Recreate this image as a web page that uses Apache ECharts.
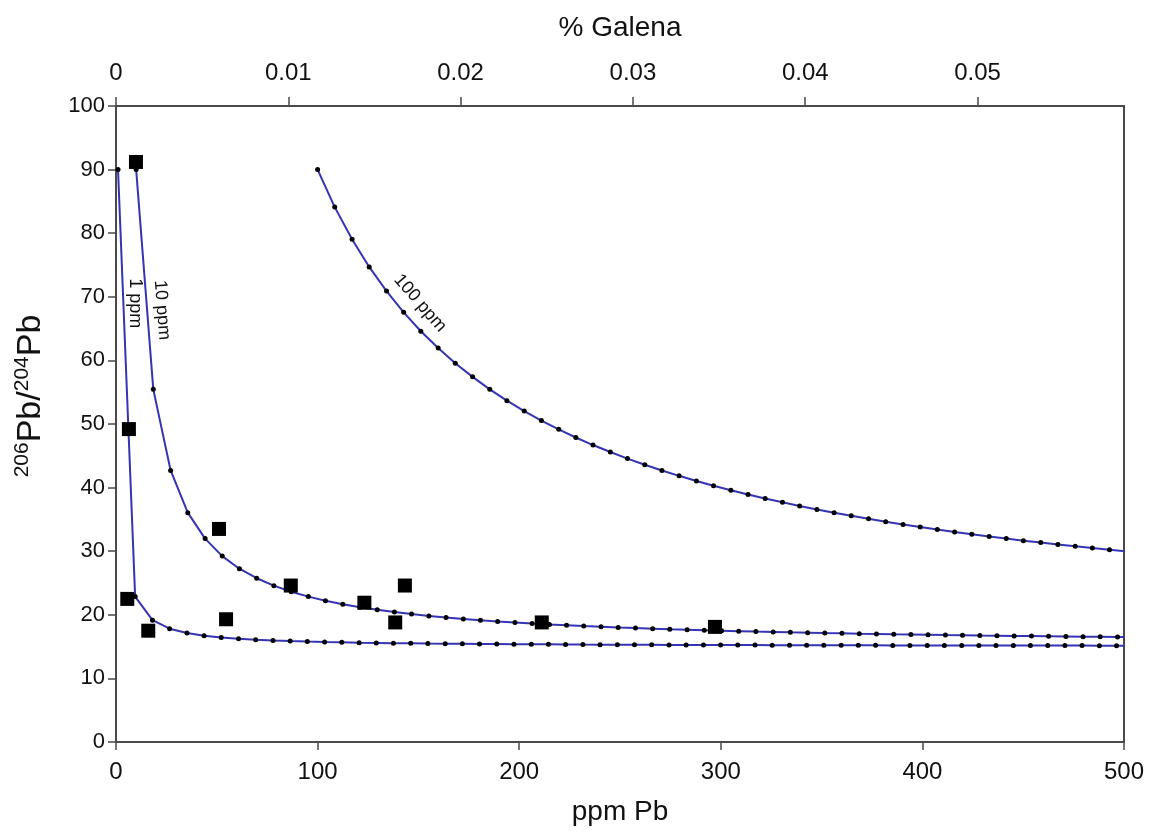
<!DOCTYPE html>
<html>
<head>
<meta charset="utf-8">
<script src="https://cdn.jsdelivr.net/npm/echarts@6/dist/echarts.min.js"></script>
<style>
html,body{margin:0;padding:0;background:#fff;}
#chart{width:1157px;height:831px;}
</style>
</head>
<body>
<div id="chart"></div>
<script>
// ---- data ----
const curve1X = [1, 9.5, 18.1, 26.6, 35.2, 43.7, 52.2, 60.8, 69.3, 77.9, 86.4, 94.9, 103.5, 112.0, 120.6, 129.1, 137.6, 146.2, 154.7, 163.3, 171.8, 180.3, 188.9, 197.4, 206.0, 214.5, 223.0, 231.6, 240.1, 248.7, 257.2, 265.7, 274.3, 282.8, 291.4, 299.9, 308.4, 317.0, 325.5, 334.1, 342.6, 351.1, 359.7, 368.2, 376.8, 385.3, 393.8, 402.4, 410.9, 419.5, 428.0, 436.5, 445.1, 453.6, 462.2, 470.7, 479.2, 487.8, 496.3, 504.9];
const curve1Y = [90, 22.86, 19.15, 17.82, 17.13, 16.72, 16.44, 16.23, 16.08, 15.96, 15.87, 15.79, 15.72, 15.67, 15.62, 15.58, 15.54, 15.51, 15.48, 15.46, 15.44, 15.42, 15.40, 15.38, 15.36, 15.35, 15.34, 15.32, 15.31, 15.30, 15.29, 15.28, 15.27, 15.27, 15.26, 15.25, 15.24, 15.24, 15.23, 15.22, 15.22, 15.21, 15.21, 15.20, 15.20, 15.19, 15.19, 15.19, 15.18, 15.18, 15.18, 15.17, 15.17, 15.17, 15.16, 15.16, 15.16, 15.15, 15.15, 15.15];

const curve10X = [10, 18.5, 27.1, 35.6, 44.2, 52.7, 61.2, 69.8, 78.3, 86.9, 95.4, 103.9, 112.5, 121.0, 129.6, 138.1, 146.6, 155.2, 163.7, 172.3, 180.8, 189.3, 197.9, 206.4, 215.0, 223.5, 232.0, 240.6, 249.1, 257.7, 266.2, 274.7, 283.3, 291.8, 300.4, 308.9, 317.4, 326.0, 334.5, 343.1, 351.6, 360.1, 368.7, 377.2, 385.8, 394.3, 402.8, 411.4, 419.9, 428.5, 437.0, 445.5, 454.1, 462.6, 471.2, 479.7, 488.2, 496.8, 505.3];
const curve10Y = [90, 55.45, 42.70, 36.06, 31.98, 29.23, 27.25, 25.75, 24.58, 23.63, 22.86, 22.22, 21.67, 21.20, 20.79, 20.43, 20.11, 19.83, 19.58, 19.35, 19.15, 18.96, 18.79, 18.63, 18.49, 18.36, 18.23, 18.12, 18.01, 17.91, 17.82, 17.73, 17.65, 17.57, 17.50, 17.43, 17.36, 17.30, 17.24, 17.19, 17.13, 17.08, 17.03, 16.99, 16.94, 16.90, 16.86, 16.82, 16.79, 16.75, 16.72, 16.68, 16.65, 16.62, 16.59, 16.56, 16.54, 16.51, 16.48];

const curve100X = [100, 108.5, 117.1, 125.6, 134.2, 142.7, 151.2, 159.8, 168.3, 176.9, 185.4, 193.9, 202.5, 211.0, 219.6, 228.1, 236.6, 245.2, 253.7, 262.3, 270.8, 279.3, 287.9, 296.4, 305.0, 313.5, 322.0, 330.6, 339.1, 347.7, 356.2, 364.7, 373.3, 381.8, 390.4, 398.9, 407.4, 416.0, 424.5, 433.1, 441.6, 450.1, 458.7, 467.2, 475.8, 484.3, 492.8, 501.4];
const curve100Y = [90, 84.10, 79.06, 74.70, 70.90, 67.56, 64.59, 61.94, 59.56, 57.41, 55.45, 53.67, 52.04, 50.54, 49.16, 47.88, 46.69, 45.59, 44.56, 43.60, 42.70, 41.85, 41.05, 40.30, 39.59, 38.92, 38.29, 37.69, 37.12, 36.57, 36.06, 35.56, 35.09, 34.64, 34.21, 33.80, 33.41, 33.03, 32.67, 32.32, 31.98, 31.66, 31.35, 31.05, 30.76, 30.49, 30.22, 29.96];

const sampleX = [9.9, 6.4, 5.6, 16.0, 51.1, 54.6, 86.7, 123.2, 138.5, 143.3, 211.2, 297.1];
const sampleY = [91.2, 49.2, 22.5, 17.5, 33.5, 19.3, 24.6, 21.9, 18.8, 24.6, 18.8, 18.1];

const curveLabels = ['1 ppm', '10 ppm', '100 ppm'];
const curveLabelX = [9.4, 22.8, 150.8];
const curveLabelY = [69.0, 67.9, 69.0];
const curveLabelAngle = [-90, -85.5, -49];

const ppmTicks = {min: 0, max: 500, interval: 100};
const galenaTicks = {min: 0, max: 0.0585, interval: 0.01};
const ratioTicks = {min: 0, max: 100, interval: 10};

// ---- chart ----
function zip(xs, ys) {
  const n = Math.min(xs.length, ys.length);
  const out = [];
  for (let i = 0; i < n; i++) out.push([xs[i], ys[i]]);
  return out;
}

const FONT = '"Liberation Sans", Arial, Helvetica, sans-serif';
const AXIS_COLOR = '#4a4a4a';
const TEXT_COLOR = '#111';
const LINE_COLOR = '#3434b4';

const chart = echarts.init(document.getElementById('chart'), null, {renderer: 'canvas'});

function lineSeries(name, xs, ys) {
  return {
    name: name,
    type: 'line',
    xAxisIndex: 0,
    yAxisIndex: 0,
    data: zip(xs, ys),
    symbol: 'circle',
    symbolSize: 5,
    showAllSymbol: true,
    itemStyle: {color: '#000', opacity: 1},
    lineStyle: {color: LINE_COLOR, width: 2},
    clip: true,
    z: 2
  };
}

const option = {
  animation: false,
  backgroundColor: '#fff',
  textStyle: {fontFamily: FONT, color: TEXT_COLOR},
  grid: {
    left: 116, right: 33, top: 106, bottom: 89,
    show: true, borderColor: AXIS_COLOR, borderWidth: 2, backgroundColor: 'transparent'
  },
  xAxis: [
    {
      type: 'value', position: 'bottom',
      min: ppmTicks.min, max: ppmTicks.max, interval: ppmTicks.interval,
      name: 'ppm Pb', nameLocation: 'middle', nameGap: 56,
      nameTextStyle: {fontSize: 28, color: TEXT_COLOR, fontFamily: FONT},
      axisLine: {show: true, lineStyle: {color: AXIS_COLOR, width: 2}},
      axisTick: {show: true, inside: false, length: 8, lineStyle: {color: AXIS_COLOR, width: 1.5}},
      axisLabel: {fontSize: 24, color: TEXT_COLOR, margin: 18, fontFamily: FONT},
      splitLine: {show: false}
    },
    {
      type: 'value', position: 'top',
      min: galenaTicks.min, max: galenaTicks.max, interval: galenaTicks.interval,
      name: '% Galena', nameLocation: 'middle', nameGap: 64,
      nameTextStyle: {fontSize: 28, color: TEXT_COLOR, fontFamily: FONT},
      axisLine: {show: true, lineStyle: {color: AXIS_COLOR, width: 2}},
      axisTick: {show: true, inside: false, length: 9, lineStyle: {color: AXIS_COLOR, width: 1.5}},
      axisLabel: {
        fontSize: 24, color: TEXT_COLOR, margin: 21, fontFamily: FONT,
        showMaxLabel: false,
        formatter: function (v) { if (v > 0.0555) return ''; return String(Math.round(v * 100) / 100); }
      },
      splitLine: {show: false}
    }
  ],
  yAxis: [
    {
      type: 'value',
      min: ratioTicks.min, max: ratioTicks.max, interval: ratioTicks.interval,
      name: '{sup|206}{b|Pb/}{sup|204}{b|Pb}',
      nameLocation: 'middle', nameGap: 66, nameRotate: 90,
      nameTextStyle: {
        color: TEXT_COLOR, fontFamily: FONT,
        padding: [0, 0, 0, 56],
        rich: {
          b: {fontSize: 34, color: TEXT_COLOR, fontFamily: FONT, lineHeight: 38},
          sup: {fontSize: 21, color: TEXT_COLOR, fontFamily: FONT, verticalAlign: 'top', lineHeight: 38, padding: [0, 0, 12, 0]}
        }
      },
      axisLine: {show: true, lineStyle: {color: AXIS_COLOR, width: 2}},
      axisTick: {show: true, inside: false, length: 8, lineStyle: {color: AXIS_COLOR, width: 1.5}},
      axisLabel: {fontSize: 22, color: TEXT_COLOR, margin: 11, fontFamily: FONT},
      splitLine: {show: false}
    }
  ],
  series: [
    lineSeries('1 ppm', curve1X, curve1Y),
    lineSeries('10 ppm', curve10X, curve10Y),
    lineSeries('100 ppm', curve100X, curve100Y),
    {
      name: 'samples',
      type: 'scatter',
      xAxisIndex: 0, yAxisIndex: 0,
      data: zip(sampleX, sampleY),
      symbol: 'rect',
      symbolSize: 14,
      itemStyle: {color: '#000', opacity: 1},
      z: 5
    }
  ]
};

chart.setOption(option);

const graphics = curveLabels.map(function (t, i) {
  const p = chart.convertToPixel({xAxisIndex: 0, yAxisIndex: 0}, [curveLabelX[i], curveLabelY[i]]);
  return {
    type: 'text',
    x: p[0], y: p[1],
    rotation: curveLabelAngle[i] * Math.PI / 180,
    style: {
      text: t, fontSize: 18, fontFamily: FONT, fill: TEXT_COLOR,
      align: 'center', verticalAlign: 'middle'
    },
    z: 10
  };
});
chart.setOption({graphic: graphics});
</script>
</body>
</html>
